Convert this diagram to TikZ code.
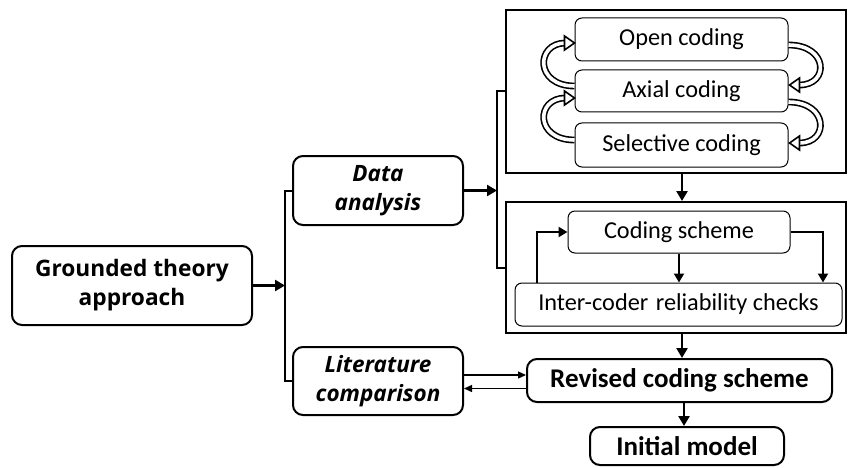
\documentclass[tikz,border=0pt]{standalone}
\usepackage{fontspec}
\setmainfont{Carlito}
\newfontfamily\osans{Open Sans}
\usetikzlibrary{arrows.meta}
\begin{document}
\begin{tikzpicture}[x=1pt,y=-1pt,
  bigbox/.style={draw, line width=2pt, rounded corners=10pt, align=center, inner sep=0pt},
  osfont/.style={font=\osans\bfseries\fontsize{22.7}{29}\selectfont},
  osit/.style={font=\osans\bfseries\itshape\fontsize{22.5}{28.5}\selectfont},
  cbfont/.style={font=\bfseries\fontsize{27}{30}\selectfont},
  inbox/.style={draw, line width=1pt, rounded corners=7pt, align=center, inner sep=0pt, font=\fontsize{24.3}{28}\selectfont},
  framebox/.style={draw, line width=2pt, inner sep=0pt},
  arr/.style={line width=2.5pt, -{Triangle[length=10pt,width=11pt]}},
  midarr/.style={line width=2pt, -{Triangle[length=9pt,width=10pt]}},
  thinarr/.style={line width=1.4pt, -{Triangle[length=8pt,width=7pt]}},
  ln/.style={line width=2pt},
  hollow/.style={double=white, line width=1.6pt, double distance=3.6pt},
  hhead/.style={line width=1.6pt, fill=white, line join=miter},
  ]
\useasboundingbox (0,0) rectangle (848,468);

% main nodes
\node[bigbox, osfont, minimum width=240pt, minimum height=79pt] (gt) at (132,285.5) {Grounded theory\\approach};
\node[bigbox, osit, minimum width=170pt, minimum height=69pt] (da) at (378,190.5) {Data\\analysis};
\node[bigbox, osit, minimum width=170pt, minimum height=68pt] (lc) at (378,381) {Literature\\comparison};

% frames
\node[framebox, minimum width=340pt, minimum height=163pt] (f1) at (676,91.5) {};
\node[framebox, minimum width=340pt, minimum height=131pt] (f2) at (676,267.5) {};

% inner nodes
\node[inbox, minimum width=213pt, minimum height=43pt] (op) at (681.5,39.5) {Open coding};
\node[inbox, minimum width=213pt, minimum height=42pt] (ax) at (681.5,91) {Axial coding};
\node[inbox, minimum width=213pt, minimum height=44pt] (se) at (681.5,145) {Selective coding};
\node[inbox, minimum width=222pt, minimum height=42pt] (cs) at (679,232) {Coding scheme};
\node[inbox, minimum width=327pt, minimum height=43pt] (ic) at (678.5,304.5) {Inter-coder\hspace{2pt} reliability checks};

% lower nodes
\node[bigbox, cbfont, minimum width=305pt, minimum height=43pt] (rv) at (679.5,380.5) {Revised coding scheme};
\node[bigbox, cbfont, minimum width=194pt, minimum height=38pt] (im) at (687,446) {Initial model};

% brackets
\coordinate (b1) at (285,288);
\coordinate (b2) at (497,189);
\draw[arr] (gt.east) -- (gt.east -| b1);
\draw[ln] (da.west) -- (da.west -| b1) -- (lc.west -| b1) -- (lc.west);
\draw[arr] (da.east) -- (da.east -| b2);
\draw[ln] (f1.west) -- (f1.west -| b2) -- (f2.west -| b2) -- (f2.west);

% vertical flow
\draw[arr] ([xshift=6pt]f1.south) -- ([xshift=6pt]f2.north);
\draw[arr] ([xshift=6pt]f2.south) -- ([xshift=6pt]f2.south |- rv.north);
\draw[arr] ([xshift=4.5pt]rv.south) -- ([xshift=4.5pt]rv.south |- im.north);

% literature <-> revised
\draw[thinarr] ([yshift=6pt]lc.east) -- ([yshift=6pt]lc.east -| rv.west);
\draw[thinarr] ([yshift=-8pt]rv.west) -- ([yshift=-8pt]rv.west -| lc.east);

% coding scheme loop
\coordinate (rr) at (823,0);
\coordinate (ll) at (537,0);
\draw[midarr] (cs.south) -- (cs.south |- ic.north);
\draw[midarr] (cs.east) -| (ic.north -| rr);
\draw[midarr] (ic.north -| ll) |- (cs.west);

% hollow curved arrows
\draw[hollow] ([yshift=5pt]ax.west) .. controls +(-40,0) and +(-30,0) .. ([xshift=-9pt,yshift=-3.5pt]op.west);
\draw[hhead] ([yshift=-3.5pt]op.west) -- ++(-10,-7) -- ++(0,14) -- cycle;
\draw[hollow] ([yshift=5pt]se.west) .. controls +(-40,0) and +(-30,0) .. ([xshift=-9pt,yshift=-7pt]ax.west);
\draw[hhead] ([yshift=-7pt]ax.west) -- ++(-10,-7) -- ++(0,14) -- cycle;
\draw[hollow] ([yshift=-5.5pt]op.east) .. controls +(40,0) and +(30,0) .. ([xshift=11pt,yshift=6pt]ax.east);
\draw[hhead] ([xshift=1pt,yshift=6pt]ax.east) -- ++(10,-7) -- ++(0,14) -- cycle;
\draw[hollow] ([yshift=-11pt]ax.east) .. controls +(40,0) and +(30,0) .. ([xshift=11pt,yshift=2pt]se.east);
\draw[hhead] ([xshift=1pt,yshift=2pt]se.east) -- ++(10,-7) -- ++(0,14) -- cycle;
\end{tikzpicture}
\end{document}
